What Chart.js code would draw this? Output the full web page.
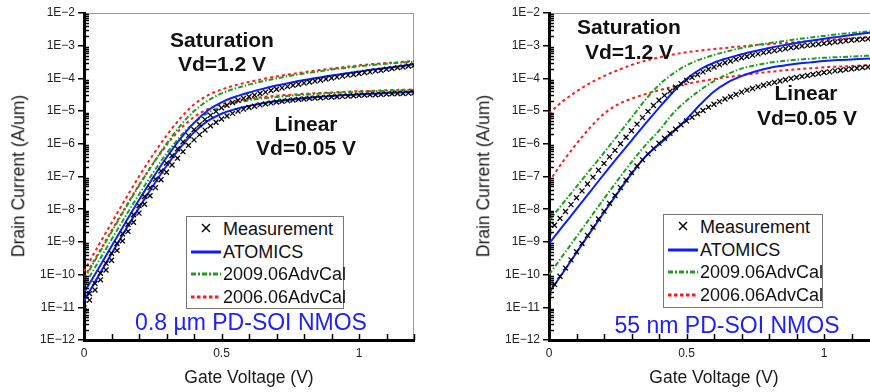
<!DOCTYPE html>
<html>
<head>
<meta charset="utf-8">
<script src="https://cdn.jsdelivr.net/npm/chart.js@4.4.1/dist/chart.umd.min.js"></script>
<style>
  html, body { margin: 0; padding: 0; background: #fff; }
  body { width: 870px; height: 392px; overflow: hidden; position: relative;
         font-family: Arial, "Liberation Sans", sans-serif; color: #111; }
  canvas { position: absolute; top: 0; }
  .lbl { position: absolute; transform: translate(-50%, -50%); white-space: nowrap; line-height: 1; }
  .big { font-weight: bold; font-size: 21px; }
  .dev { color: #2020ff; font-size: 23px; }
  .ytitle { position: absolute; font-size: 17.5px; line-height: 1; white-space: nowrap; color: #1a1a1a;
            transform: translate(-50%, -50%) rotate(-90deg); }
  .xtitle { font-size: 17.5px; color: #1a1a1a; }
  .legend { position: absolute; border: 1px solid #777; background: #fff; box-sizing: border-box; }
  .row { position: absolute; left: 0; width: 100%; height: 22px; }
  .row svg { position: absolute; left: 4px; top: 0; }
  .row span { position: absolute; left: 36px; top: 0; line-height: 22px; font-size: 18px; color: #111; white-space: nowrap; }
</style>
</head>
<body>
<canvas id="chartA" width="435" height="392" style="left:0"></canvas>
<canvas id="chartB" width="435" height="392" style="left:465px"></canvas>

<div class="ytitle" style="left:19px; top:176px">Drain Current (A/um)</div>
<div class="ytitle" style="left:484px; top:176px">Drain Current (A/um)</div>
<div class="lbl xtitle" style="left:249px; top:378px">Gate Voltage (V)</div>
<div class="lbl xtitle" style="left:714px; top:378px">Gate Voltage (V)</div>

<div class="lbl big" style="left:222px; top:39px">Saturation</div>
<div class="lbl big" style="left:222px; top:63px">Vd=1.2 V</div>
<div class="lbl big" style="left:306px; top:123px">Linear</div>
<div class="lbl big" style="left:306px; top:147px">Vd=0.05 V</div>
<div class="lbl dev" style="left:251px; top:322px">0.8 µm PD-SOI NMOS</div>

<div class="lbl big" style="left:629px; top:26px">Saturation</div>
<div class="lbl big" style="left:629px; top:51px">Vd=1.2 V</div>
<div class="lbl big" style="left:806px; top:92px">Linear</div>
<div class="lbl big" style="left:807px; top:117px">Vd=0.05 V</div>
<div class="lbl dev" style="left:727px; top:325px">55 nm PD-SOI NMOS</div>

<div id="legA" class="legend" style="left:186px; top:216px; width:158px; height:93px"></div>
<div id="legB" class="legend" style="left:663px; top:214px; width:160px; height:94px"></div>

<script>
// gate voltage grids (V)
const vMeas = [0, 0.02, 0.04, 0.06, 0.08, 0.1, 0.12, 0.14, 0.16, 0.18, 0.2, 0.22, 0.24, 0.26, 0.28, 0.3,
  0.32, 0.34, 0.36, 0.38, 0.4, 0.42, 0.44, 0.46, 0.48, 0.5, 0.52, 0.54, 0.56, 0.58, 0.6, 0.62, 0.64,
  0.66, 0.68, 0.7, 0.72, 0.74, 0.76, 0.78, 0.8, 0.82, 0.84, 0.86, 0.88, 0.9, 0.92, 0.94, 0.96, 0.98,
  1, 1.02, 1.04, 1.06, 1.08, 1.1, 1.12, 1.14, 1.16, 1.18, 1.2];
const vSim = [0, 0.05, 0.1, 0.15, 0.2, 0.25, 0.3, 0.35, 0.4, 0.45, 0.5, 0.55, 0.6, 0.65, 0.7, 0.75,
  0.8, 0.85, 0.9, 0.95, 1, 1.05, 1.1, 1.15, 1.2];

// tick values and labels
const xTicks = [0, 0.1, 0.2, 0.3, 0.4, 0.5, 0.6, 0.7, 0.8, 0.9, 1, 1.1, 1.2];
const xTickLabels = ['0', '', '', '', '', '0.5', '', '', '', '', '1', '', ''];
const yTicks = [1e-12, 1e-11, 1e-10, 1e-9, 1e-8, 1e-7, 1e-6, 1e-5, 1e-4, 1e-3, 1e-2];
const yTickLabels = ['1E\u221212', '1E\u221211', '1E\u221210', '1E\u22129', '1E\u22128', '1E\u22127',
  '1E\u22126', '1E\u22125', '1E\u22124', '1E\u22123', '1E\u22122'];
const yMinor = [2, 3, 4, 5, 6, 7, 8, 9];

const seriesNames = ['Measurement', 'ATOMICS', '2009.06AdvCal', '2006.06AdvCal'];

// drain current, stored as log10(A/um)
// 0.8 um device
const measSatA = [-10.90, -10.58, -10.27, -9.96, -9.65, -9.35, -9.05, -8.75, -8.46, -8.17, -7.89, -7.61,
  -7.34, -7.08, -6.83, -6.59, -6.36, -6.15, -5.94, -5.75, -5.57, -5.41, -5.26, -5.13, -5.01, -4.90, -4.82,
  -4.74, -4.67, -4.61, -4.56, -4.51, -4.46, -4.42, -4.37, -4.33, -4.29, -4.25, -4.21, -4.18, -4.14, -4.11,
  -4.08, -4.05, -4.02, -3.99, -3.96, -3.93, -3.90, -3.88, -3.85, -3.82, -3.80, -3.77, -3.75, -3.72, -3.70,
  -3.67, -3.65, -3.62, -3.60];
const measLinA = [-11.10, -10.78, -10.47, -10.16, -9.86, -9.56, -9.26, -8.97, -8.68, -8.40, -8.12, -7.85,
  -7.59, -7.34, -7.10, -6.87, -6.65, -6.44, -6.24, -6.05, -5.88, -5.72, -5.58, -5.45, -5.34, -5.24, -5.15,
  -5.07, -5.00, -4.94, -4.89, -4.85, -4.81, -4.78, -4.75, -4.72, -4.70, -4.68, -4.66, -4.64, -4.63, -4.61,
  -4.60, -4.59, -4.58, -4.57, -4.56, -4.55, -4.54, -4.53, -4.52, -4.51, -4.50, -4.50, -4.49, -4.48, -4.47,
  -4.46, -4.46, -4.45, -4.44];
const atomSatA = [-10.55, -9.85, -9.13, -8.42, -7.72, -7.05, -6.42, -5.85, -5.36, -4.98, -4.73, -4.56, -4.43,
  -4.32, -4.22, -4.13, -4.05, -3.98, -3.91, -3.85, -3.79, -3.73, -3.68, -3.63, -3.57];
const atomLinA = [-10.80, -10.08, -9.36, -8.65, -7.96, -7.30, -6.68, -6.12, -5.65, -5.30, -5.08, -4.94, -4.84,
  -4.76, -4.70, -4.65, -4.61, -4.57, -4.54, -4.51, -4.49, -4.47, -4.45, -4.43, -4.41];
const cal09SatA = [-10.15, -9.42, -8.70, -7.98, -7.28, -6.62, -6.00, -5.45, -5.00, -4.68, -4.46, -4.31, -4.19,
  -4.09, -4.00, -3.92, -3.85, -3.79, -3.73, -3.68, -3.63, -3.59, -3.55, -3.52, -3.49];
const cal09LinA = [-10.35, -9.64, -8.93, -8.23, -7.55, -6.90, -6.30, -5.78, -5.36, -5.06, -4.87, -4.75, -4.67,
  -4.61, -4.57, -4.53, -4.50, -4.47, -4.45, -4.43, -4.41, -4.39, -4.38, -4.36, -4.35];
const cal06SatA = [-9.90, -9.15, -8.42, -7.70, -7.00, -6.35, -5.75, -5.22, -4.80, -4.52, -4.34, -4.21, -4.11,
  -4.02, -3.94, -3.87, -3.81, -3.75, -3.70, -3.65, -3.60, -3.56, -3.53, -3.50, -3.47];
const cal06LinA = [-10.10, -9.38, -8.66, -7.95, -7.26, -6.62, -6.04, -5.55, -5.18, -4.94, -4.79, -4.69, -4.62,
  -4.57, -4.53, -4.50, -4.47, -4.45, -4.43, -4.41, -4.39, -4.38, -4.36, -4.35, -4.34];

// 55 nm device
const measSatB = [-8.70, -8.49, -8.28, -8.07, -7.86, -7.65, -7.44, -7.23, -7.02, -6.81, -6.60, -6.40, -6.20,
  -6.00, -5.80, -5.60, -5.40, -5.20, -5.01, -4.83, -4.67, -4.52, -4.39, -4.27, -4.16, -4.06, -3.97, -3.88,
  -3.80, -3.72, -3.65, -3.58, -3.52, -3.47, -3.42, -3.37, -3.33, -3.29, -3.25, -3.21, -3.18, -3.15, -3.12,
  -3.09, -3.06, -3.04, -3.01, -2.99, -2.97, -2.95, -2.93, -2.91, -2.89, -2.87, -2.85, -2.83, -2.82, -2.80,
  -2.79, -2.77, -2.76];
const measLinB = [-10.55, -10.30, -10.05, -9.80, -9.55, -9.30, -9.05, -8.80, -8.55, -8.30, -8.06, -7.82, -7.58,
  -7.34, -7.11, -6.88, -6.68, -6.49, -6.31, -6.14, -5.98, -5.83, -5.68, -5.55, -5.42, -5.30, -5.19, -5.08,
  -4.98, -4.88, -4.79, -4.71, -4.63, -4.56, -4.49, -4.42, -4.36, -4.31, -4.26, -4.21, -4.16, -4.12, -4.08,
  -4.04, -4.00, -3.97, -3.94, -3.91, -3.88, -3.85, -3.82, -3.80, -3.77, -3.75, -3.73, -3.71, -3.69, -3.67,
  -3.65, -3.63, -3.61];
const atomSatB = [-9.05, -8.52, -7.99, -7.46, -6.93, -6.41, -5.90, -5.39, -4.90, -4.43, -4.02, -3.72, -3.52,
  -3.38, -3.26, -3.16, -3.07, -2.99, -2.92, -2.85, -2.79, -2.73, -2.67, -2.62, -2.57];
const atomLinB = [-10.55, -9.95, -9.33, -8.71, -8.10, -7.50, -6.92, -6.40, -6.02, -5.65, -5.25, -4.80, -4.40,
  -4.12, -3.93, -3.79, -3.68, -3.61, -3.55, -3.51, -3.47, -3.44, -3.42, -3.40, -3.38];
const cal09SatB = [-8.35, -7.83, -7.31, -6.79, -6.27, -5.74, -5.20, -4.66, -4.20, -3.86, -3.60, -3.42, -3.28,
  -3.17, -3.07, -2.99, -2.92, -2.86, -2.80, -2.75, -2.70, -2.65, -2.61, -2.57, -2.53];
const cal09LinB = [-10.00, -9.42, -8.84, -8.26, -7.68, -7.11, -6.56, -6.05, -5.60, -5.08, -4.68, -4.36, -4.08,
  -3.87, -3.70, -3.60, -3.52, -3.47, -3.43, -3.40, -3.37, -3.35, -3.33, -3.31, -3.29];
const cal06SatB = [-5.07, -4.70, -4.40, -4.14, -3.93, -3.75, -3.59, -3.46, -3.36, -3.27, -3.20, -3.15, -3.10,
  -3.06, -3.02, -2.98, -2.95, -2.92, -2.89, -2.86, -2.83, -2.80, -2.77, -2.75, -2.73];
const cal06LinB = [-7.16, -6.55, -6.00, -5.50, -5.08, -4.80, -4.62, -4.48, -4.36, -4.26, -4.17, -4.09, -4.02,
  -3.96, -3.90, -3.85, -3.80, -3.76, -3.72, -3.69, -3.66, -3.64, -3.62, -3.60, -3.58];

const FONT = 'Arial, "Liberation Sans", sans-serif';
const BLUE = '#0a1eff', GREEN = '#1e9e1e', RED = '#ff1a1a';

function pts(xs, logs) {
    return xs.map((x, i) => ({ x: x, y: Math.pow(10, logs[i]) }));
}

function measSet(logs) {
    return {
        data: pts(vMeas, logs), showLine: false, pointStyle: 'crossRot', pointRadius: 3.5,
        borderColor: '#000', backgroundColor: 'transparent', borderWidth: 1.3
    };
}

function simSet(logs, color, dash) {
    return {
        data: pts(vSim, logs), showLine: true, pointRadius: 0, borderColor: color, borderWidth: 2,
        borderDash: dash, cubicInterpolationMode: 'monotone', fill: false
    };
}

// gray frame on top/right, inward ticks on the axes
const frameTicks = {
    id: 'frameTicks',
    beforeDraw(chart) {
        const a = chart.chartArea, c = chart.ctx;
        c.save();
        c.strokeStyle = '#9a9a9a';
        c.lineWidth = 1;
        c.beginPath();
        c.moveTo(a.left, a.top + 0.5);
        c.lineTo(a.right - 0.5, a.top + 0.5);
        c.lineTo(a.right - 0.5, a.bottom);
        c.stroke();
        c.restore();
    },
    afterDatasetsDraw(chart) {
        const a = chart.chartArea, c = chart.ctx;
        const xs = chart.scales.x, ys = chart.scales.y;
        c.save();
        c.strokeStyle = '#000';
        c.lineWidth = 1.5;
        c.beginPath();
        xTicks.forEach(v => {
            const px = Math.round(xs.getPixelForValue(v)) + 0.5;
            c.moveTo(px, a.bottom);
            c.lineTo(px, a.bottom - 6);
        });
        yTicks.slice(0, -1).forEach(d => {
            yMinor.forEach(m => {
                const py = Math.round(ys.getPixelForValue(m * d)) + 0.5;
                c.moveTo(a.left, py);
                c.lineTo(a.left + 5, py);
            });
        });
        c.stroke();
        c.restore();
    }
};

function makeChart(id, d) {
    return new Chart(document.getElementById(id), {
        type: 'scatter',
        data: {
            datasets: [
                measSet(d.measSat), measSet(d.measLin),
                simSet(d.atomSat, BLUE, []), simSet(d.atomLin, BLUE, []),
                simSet(d.cal09Sat, GREEN, [5, 2, 1.5, 2]), simSet(d.cal09Lin, GREEN, [5, 2, 1.5, 2]),
                simSet(d.cal06Sat, RED, [3, 3]), simSet(d.cal06Lin, RED, [3, 3])
            ]
        },
        options: {
            animation: false,
            responsive: false,
            events: [],
            layout: { padding: { top: 13, right: 21, left: 0, bottom: 0 } },
            plugins: { legend: { display: false }, tooltip: { enabled: false } },
            scales: {
                x: {
                    type: 'linear', min: 0, max: 1.2,
                    afterFit(s) { s.height = 52; },
                    afterBuildTicks(s) { s.ticks = xTicks.map(v => ({ value: v })); },
                    ticks: {
                        callback: (v, i) => xTickLabels[i], padding: 6, color: '#222',
                        font: { size: 12, family: FONT }, maxRotation: 0, autoSkip: false
                    },
                    grid: { drawOnChartArea: false, drawTicks: false },
                    border: { color: '#000', width: 3 }
                },
                y: {
                    type: 'logarithmic', min: 1e-12, max: 1e-2,
                    afterFit(s) { s.width = 84; },
                    afterBuildTicks(s) { s.ticks = yTicks.map(v => ({ value: v })); },
                    ticks: {
                        callback: (v, i) => yTickLabels[i], padding: 3, color: '#222',
                        font: { size: 12, family: FONT }, autoSkip: false
                    },
                    grid: { drawOnChartArea: false, drawTicks: true, tickLength: 6, color: '#000', lineWidth: 1.5 },
                    border: { color: '#000', width: 3 }
                }
            }
        },
        plugins: [frameTicks]
    });
}

makeChart('chartA', {
    measSat: measSatA, measLin: measLinA, atomSat: atomSatA, atomLin: atomLinA,
    cal09Sat: cal09SatA, cal09Lin: cal09LinA, cal06Sat: cal06SatA, cal06Lin: cal06LinA
});
makeChart('chartB', {
    measSat: measSatB, measLin: measLinB, atomSat: atomSatB, atomLin: atomLinB,
    cal09Sat: cal09SatB, cal09Lin: cal09LinB, cal06Sat: cal06SatB, cal06Lin: cal06LinB
});

// legend boxes
const samples = [
    '<line x1="11" y1="6" x2="19" y2="14" stroke="#000" stroke-width="1.5"/><line x1="19" y1="6" x2="11" y2="14" stroke="#000" stroke-width="1.5"/>',
    '<line x1="0" y1="11" x2="30" y2="11" stroke="' + BLUE + '" stroke-width="3"/>',
    '<line x1="0" y1="11" x2="30" y2="11" stroke="' + GREEN + '" stroke-width="3" stroke-dasharray="5 2 2 2"/>',
    '<line x1="0" y1="11" x2="30" y2="11" stroke="' + RED + '" stroke-width="3" stroke-dasharray="3.5 2.5"/>'
];
const rowTops = [1, 24, 46, 69];
['legA', 'legB'].forEach(id => {
    const box = document.getElementById(id);
    box.innerHTML = seriesNames.map((name, i) =>
        '<div class="row" style="top:' + rowTops[i] + 'px"><svg width="30" height="22">' + samples[i] +
        '</svg><span>' + name + '</span></div>').join('');
});
</script>
</body>
</html>
